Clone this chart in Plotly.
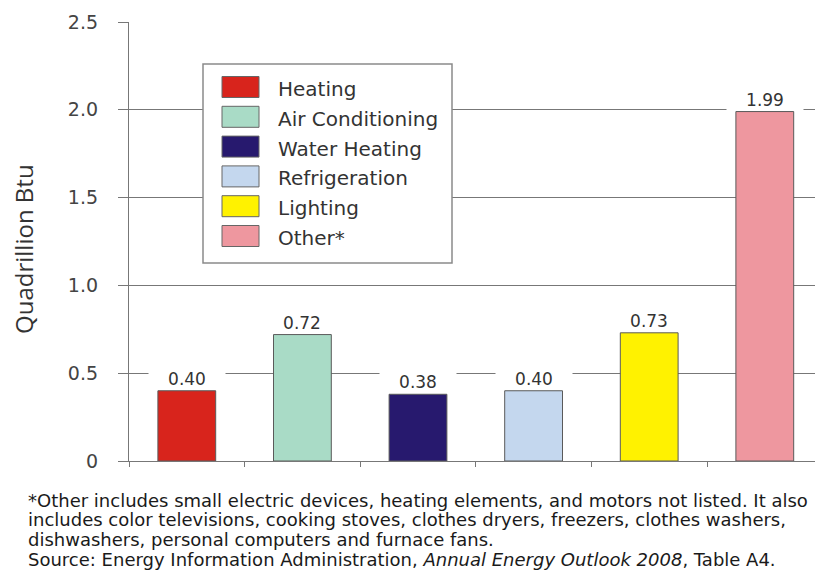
import plotly.graph_objects as go

# Residential end-use electricity consumption
categories = ["Heating", "Air Conditioning", "Water Heating", "Refrigeration", "Lighting", "Other*"]
values = [0.40, 0.72, 0.38, 0.40, 0.73, 1.99]
colors = ["#D8241C", "#A9DBC6", "#27196E", "#C4D7EE", "#FFF200", "#EE979F"]
y_ticks = [0, 0.5, 1.0, 1.5, 2.0, 2.5]
y_tick_labels = ["0", "0.5", "1.0", "1.5", "2.0", "2.5"]
y_title = "Quadrillion Btu"
footnote_lines = [
    "*Other includes small electric devices, heating elements, and motors not listed. It also",
    "includes color televisions, cooking stoves, clothes dryers, freezers, clothes washers,",
    "dishwashers, personal computers and furnace fans.",
    "Source: Energy Information Administration, <i>Annual Energy Outlook 2008</i>, Table A4.",
]

W, H = 815, 573
L, R, T, B = 129, 0, 22, 112
plot_w = W - L - R
plot_h = H - T - B
cat_step = 115.6  # pixel width of one category slot
CHART_FONT = "DejaVu Sans"


def px_x(px):
    return (px - L) / plot_w


def px_y(py):
    return (H - B - py) / plot_h


x = list(range(len(categories)))
fig = go.Figure(
    go.Bar(
        x=x,
        y=values,
        width=0.5,
        marker=dict(color=colors, line=dict(color="#5a5a5a", width=1)),
        showlegend=False,
        hovertext=categories,
    )
)

annotations = []
shapes = []

# value labels on white boxes above each bar
for xi, v in zip(x, values):
    annotations.append(dict(
        x=xi, y=v, xref="x", yref="y", text=f"{v:.2f}", showarrow=False,
        yanchor="bottom", yshift=1, bgcolor="white", width=76, borderpad=0,
        font=dict(family=CHART_FONT, size=17, color="#333333"),
    ))

# legend box with swatches
shapes.append(dict(
    type="rect", xref="paper", yref="paper",
    x0=px_x(203), x1=px_x(452), y0=px_y(263), y1=px_y(64),
    line=dict(color="#8a8a8a", width=1.5), fillcolor="white", layer="above",
))
for i, (name, col) in enumerate(zip(categories, colors)):
    cy = 87 + 29.8 * i
    shapes.append(dict(
        type="rect", xref="paper", yref="paper",
        x0=px_x(222), x1=px_x(259), y0=px_y(cy + 10.5), y1=px_y(cy - 10.5),
        line=dict(color="#666666", width=1), fillcolor=col, layer="above",
    ))
    annotations.append(dict(
        x=px_x(276), y=px_y(cy + 2), xref="paper", yref="paper", text=name,
        showarrow=False, xanchor="left", yanchor="middle",
        font=dict(family=CHART_FONT, size=20, color="#333333"),
    ))

# y-axis title
annotations.append(dict(
    x=px_x(23), y=px_y(249), xref="paper", yref="paper", text=y_title,
    showarrow=False, textangle=-90, xanchor="center", yanchor="middle",
    font=dict(family="Open Sans", size=24, color="#333333"),
))

# footnote, one annotation per line for tight leading
for i, line in enumerate(footnote_lines):
    annotations.append(dict(
        x=px_x(26), y=px_y(500 + 19.7 * i), xref="paper", yref="paper",
        text=line, showarrow=False, align="left",
        xanchor="left", yanchor="middle",
        font=dict(family=CHART_FONT, size=18, color="#1a1a1a"),
    ))

fig.update_layout(
    width=W, height=H,
    margin=dict(l=L, r=R, t=T, b=B, pad=0),
    paper_bgcolor="white", plot_bgcolor="white",
    annotations=annotations,
    shapes=shapes,
    xaxis=dict(
        range=[-0.5, -0.5 + plot_w / cat_step],
        tickvals=[i - 0.5 for i in x],
        showticklabels=False,
        ticks="outside", ticklen=5, tickwidth=1.3, tickcolor="#777777",
        showline=True, linecolor="#777777", linewidth=1.3,
        showgrid=False, zeroline=False,
    ),
    yaxis=dict(
        range=[0, 2.5],
        tickvals=y_ticks, ticktext=y_tick_labels,
        ticks="outside", ticklen=10, tickwidth=1.3, tickcolor="#777777",
        ticklabelstandoff=16,
        tickfont=dict(family=CHART_FONT, size=19, color="#444444"),
        showline=True, linecolor="#777777", linewidth=1.3,
        showgrid=True, gridcolor="#777777", gridwidth=1.3,
        zeroline=False,
    ),
)

fig.write_html("out.html")
